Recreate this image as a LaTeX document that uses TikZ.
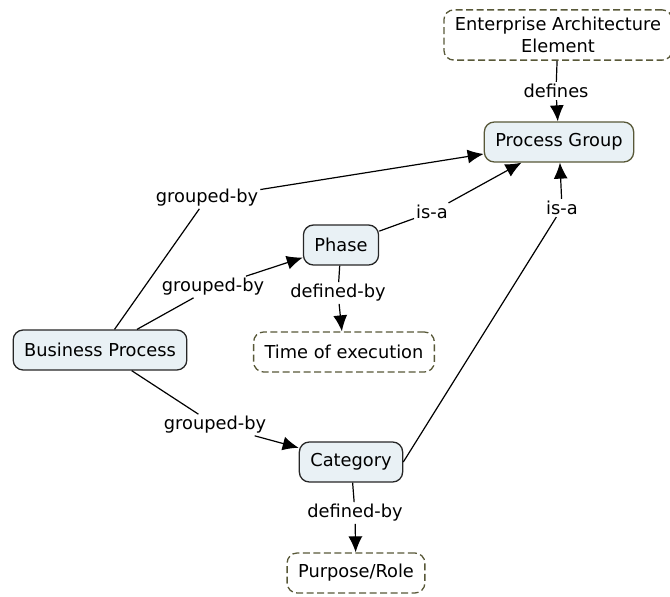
\documentclass[tikz,border=0pt]{standalone}
\usepackage{fontspec}
\setmainfont{DejaVu Sans}
\usepackage{tikz}
\usetikzlibrary{arrows.meta}
\usetikzlibrary{positioning}
\definecolor{concept_fill}{RGB}{233,241,245}
\definecolor{olive_line}{RGB}{88,88,56}
\tikzstyle{concept}=[rectangle, rounded corners=10, fill=concept_fill, draw=black!85, line width=1.3, inner xsep=11, minimum height=40]
\tikzstyle{resource}=[rectangle, rounded corners=10, fill=white, draw=olive_line, dashed, dash pattern=on 7 off 3.5, line width=1.3, inner xsep=11, minimum height=40]
\tikzstyle{link_label}=[inner sep=2, fill=white]
\tikzstyle{link}=[line width=1.2]
\tikzstyle{link_arrow}=[line width=1.2, -{Latex[length=16,width=14]}]

\begin{document}
\begin{tikzpicture}[x=1pt, y=-1pt, font=\fontsize{17.8}{22.5}\selectfont]
          \useasboundingbox (0,0) rectangle (670,597);
          \node[resource, align=center, inner ysep=7] (eae) at (558,35){Enterprise Architecture\\Element};
          \node[concept, draw=olive_line] (pg) at (559,142){Process Group};
          \node[concept] (phase) at (341,245){Phase};
          \node[concept] (bp) at (100,350){Business Process};
          \node[resource] (toe) at (344,352){Time of execution};
          \node[concept] (cat) at (351,462){Category};
          \node[resource] (pr) at (356,573){Purpose/Role};
          % linking phrases
          \node[link_label] (def) at (556,91){defines};
          \node[link_label] (gb1) at (207,198){grouped-by};
          \node[link_label] (isa1) at (432,212){is-a};
          \node[link_label] (isa2) at (562,208){is-a};
          \node[link_label] (gb2) at (213,287){grouped-by};
          \node[link_label] (dby1) at (338,293){defined-by};
          \node[link_label] (gb3) at (215,425){grouped-by};
          \node[link_label] (dby2) at (355,513){defined-by};
          \draw[link](eae) -- (def);
          \draw[link_arrow](def) -- (pg);
          \draw[link](bp) -- (gb1);
          \draw[link_arrow](gb1) -- (pg);
          \draw[link](bp) -- (gb2);
          \draw[link_arrow](gb2) -- (phase);
          \draw[link](phase) -- (isa1);
          \draw[link_arrow](isa1) -- (pg);
          \draw[link](phase) -- (dby1);
          \draw[link_arrow](dby1) -- (toe);
          \draw[link](bp) -- (gb3);
          \draw[link_arrow](gb3) -- (cat);
          \draw[link](cat.east) -- (isa2);
          \draw[link_arrow](isa2) -- (pg);
          \draw[link](cat) -- (dby2);
          \draw[link_arrow](dby2) -- (pr);
        \end{tikzpicture}
\end{document}
